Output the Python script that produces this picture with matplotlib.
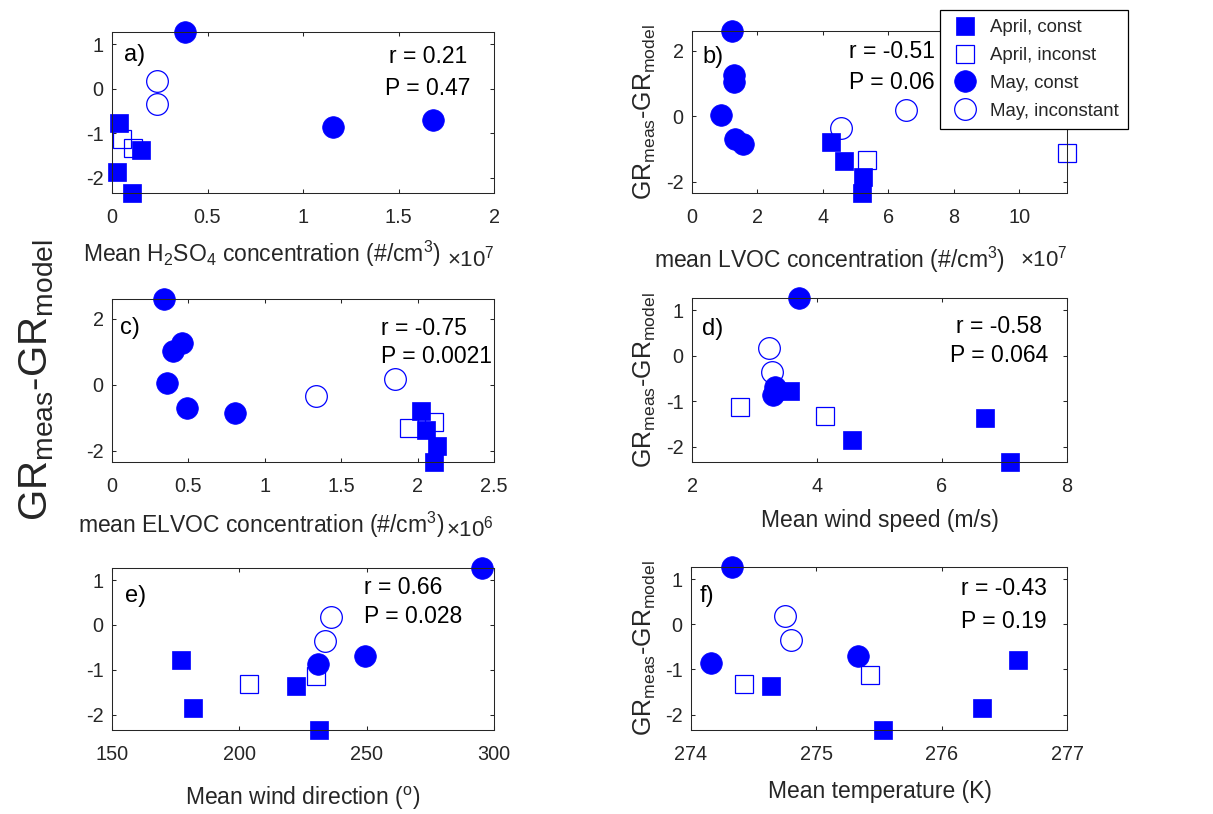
import numpy as np
import matplotlib
matplotlib.use('Agg')
import matplotlib.pyplot as plt
from matplotlib.lines import Line2D
from matplotlib.ticker import FuncFormatter

nan = np.nan

# ---------------- data ----------------
# GR_meas - GR_model for each event group
dgr_apr_const = [-0.78, -1.37, -1.86, -2.34]
dgr_apr_incon = [-1.13, -1.32]
dgr_may_const = [2.60, 1.27, 1.03, 0.04, -0.70, -0.86]
dgr_may_incon = [0.18, -0.35]

# a) mean H2SO4 concentration (x 1e7 #/cm3)
h2so4_apr_const = [0.038, 0.151, 0.028, 0.106]
h2so4_apr_incon = [0.050, 0.108]
h2so4_may_const = [nan, 0.384, nan, nan, 1.680, 1.158]
h2so4_may_incon = [0.236, 0.233]

# b) mean LVOC concentration (x 1e7 #/cm3)
lvoc_apr_const = [4.24, 4.63, 5.24, 5.21]
lvoc_apr_incon = [11.46, 5.35]
lvoc_may_const = [1.22, 1.27, 1.27, 0.89, 1.32, 1.55]
lvoc_may_incon = [6.55, 4.56]

# c) mean ELVOC concentration (x 1e6 #/cm3)
elvoc_apr_const = [2.025, 2.058, 2.130, 2.110]
elvoc_apr_incon = [2.110, 1.944]
elvoc_may_const = [0.340, 0.455, 0.397, 0.357, 0.488, 0.806]
elvoc_may_incon = [1.850, 1.334]

# d) mean wind speed (m/s)
ws_apr_const = [3.57, 6.69, 4.56, 7.08]
ws_apr_incon = [2.77, 4.12]
ws_may_const = [nan, 3.71, nan, nan, 3.32, 3.30]
ws_may_incon = [3.23, 3.28]

# e) mean wind direction (deg)
wd_apr_const = [176.9, 222.2, 181.9, 231.3]
wd_apr_incon = [230.3, 203.6]
wd_may_const = [nan, 295.3, nan, nan, 249.3, 230.7]
wd_may_incon = [235.9, 233.7]

# f) mean temperature (K)
temp_apr_const = [276.61, 274.64, 276.32, 275.53]
temp_apr_incon = [275.43, 274.42]
temp_may_const = [nan, 274.33, nan, nan, 275.33, 274.16]
temp_may_incon = [274.75, 274.80]

r_values = ['0.21', '-0.51', '-0.75', '-0.58', '0.66', '-0.43']
p_values = ['0.47', '0.06', '0.0021', '0.064', '0.028', '0.19']
panel_letters = ['a)', 'b)', 'c)', 'd)', 'e)', 'f)']
group_labels = ['April, const', 'April, inconst', 'May, const', 'May, inconstant']

# ---------------- style ----------------
plt.rcParams['font.family'] = ['Liberation Sans', 'DejaVu Sans']
plt.rcParams['mathtext.fontset'] = 'custom'
plt.rcParams['mathtext.rm'] = 'Liberation Sans'
plt.rcParams['mathtext.it'] = 'Liberation Sans:italic'
plt.rcParams['mathtext.bf'] = 'Liberation Sans:bold'
plt.rcParams['axes.unicode_minus'] = False

W, H = 1213, 814
fig = plt.figure(figsize=(W / 100, H / 100), dpi=100)

def fx(px):
    return px / W

def fy(py):
    return 1 - py / H

GREY = '#262626'
BLUE = (0, 0, 1)
MS_SQ = 12.3
MS_CI = 15.6
TICK_FS = 14.3

styles = [
    dict(marker='s', ms=MS_SQ, mfc=BLUE, mec=BLUE, mew=0.5),
    dict(marker='s', ms=MS_SQ, mfc='none', mec=BLUE, mew=0.9),
    dict(marker='o', ms=MS_CI, mfc=BLUE, mec=BLUE, mew=0.5),
    dict(marker='o', ms=MS_CI, mfc='none', mec=BLUE, mew=0.9),
]
ys = [dgr_apr_const, dgr_apr_incon, dgr_may_const, dgr_may_incon]

panels = [
    dict(xs=[h2so4_apr_const, h2so4_apr_incon, h2so4_may_const, h2so4_may_incon],
         box=(112, 32, 494, 193), xlim=(0, 2), xticks=[0, 0.5, 1, 1.5, 2], yticks=[-2, -1, 0, 1],
         xlabel=r'Mean H$_2$SO$_4$ concentration (#/cm$^3$)', xlab=(262, 262),
         expo=(r'$\times10^{7}$', 447, 266), rp=('center', 428, 63, 95), letter=(124, 61), ylab=False),
    dict(xs=[lvoc_apr_const, lvoc_apr_incon, lvoc_may_const, lvoc_may_incon],
         box=(692, 31, 1067, 193), xlim=None, xticks=[0, 2, 4, 6, 8, 10], yticks=[-2, 0, 2],
         xlabel=r'mean LVOC concentration (#/cm$^3$)', xlab=(830, 268),
         expo=(r'$\times10^{7}$', 1020, 267), rp=('left', 849, 58, 89), letter=(702, 63), ylab=True),
    dict(xs=[elvoc_apr_const, elvoc_apr_incon, elvoc_may_const, elvoc_may_incon],
         box=(112, 299, 494, 462), xlim=(0, 2.5), xticks=[0, 0.5, 1, 1.5, 2, 2.5], yticks=[-2, 0, 2],
         xlabel=r'mean ELVOC concentration (#/cm$^3$)', xlab=(261, 533),
         expo=(r'$\times10^{6}$', 446, 536), rp=('left', 381, 335, 363), letter=(120, 334), ylab=False),
    dict(xs=[ws_apr_const, ws_apr_incon, ws_may_const, ws_may_incon],
         box=(692, 298, 1067, 462), xlim=(2, 8), xticks=[2, 4, 6, 8], yticks=[-2, -1, 0, 1],
         xlabel='Mean wind speed (m/s)', xlab=(880, 527),
         expo=None, rp=('center', 999, 333, 362), letter=(702, 335), ylab=True),
    dict(xs=[wd_apr_const, wd_apr_incon, wd_may_const, wd_may_incon],
         box=(112, 568, 494, 730), xlim=(150, 300), xticks=[150, 200, 250, 300], yticks=[-2, -1, 0, 1],
         xlabel=r'Mean wind direction ($^{\rm o}$)', xlab=(303, 805),
         expo=None, rp=('left', 364, 594, 623), letter=(125, 602), ylab=False),
    dict(xs=[temp_apr_const, temp_apr_incon, temp_may_const, temp_may_incon],
         box=(691, 567, 1067, 730), xlim=(274, 277), xticks=[274, 275, 276, 277], yticks=[-2, -1, 0, 1],
         xlabel='Mean temperature (K)', xlab=(880, 798),
         expo=None, rp=('left', 961, 595, 628), letter=(700, 602), ylab=True),
]

fmt = FuncFormatter(lambda v, _: f'{v:g}')
ylab_text = r'GR$_{\rm meas}$-GR$_{\rm model}$'

for i, p in enumerate(panels):
    l, t, r, b = p['box']
    ax = fig.add_axes([fx(l), fy(b), (r - l) / W, (b - t) / H])
    allx, ally = [], []
    for xs, yv, st in zip(p['xs'], ys, styles):
        xa = np.array(xs, float)
        ya = np.array(yv, float)
        ok = ~np.isnan(xa)
        ax.plot(xa[ok], ya[ok], ls='none', clip_on=False, **st)
        allx += list(xa[ok])
        ally += list(ya[ok])
    if p['xlim'] is None:
        ax.set_xlim(0, max(allx))
    else:
        ax.set_xlim(*p['xlim'])
    ax.set_ylim(min(ally), max(ally))
    ax.set_xticks(p['xticks'])
    ax.set_yticks(p['yticks'])
    ax.xaxis.set_major_formatter(fmt)
    ax.yaxis.set_major_formatter(fmt)
    ax.tick_params(direction='in', length=3, width=0.75, top=True, right=True,
                   colors=GREY, labelsize=TICK_FS)
    ax.tick_params(axis='x', pad=11)
    ax.tick_params(axis='y', pad=6)
    for s in ax.spines.values():
        s.set_linewidth(0.75)
        s.set_color(GREY)

    fig.text(fx(p['xlab'][0]), fy(p['xlab'][1]), p['xlabel'], ha='center', va='baseline',
             fontsize=16.5, color=GREY)
    if p['expo'] is not None:
        e, ex, ey = p['expo']
        fig.text(fx(ex), fy(ey), e, ha='left', va='baseline', fontsize=16, color=GREY)
    ha, rx, y1, y2 = p['rp']
    fig.text(fx(rx), fy(y1), f'r = {r_values[i]}', ha=ha, va='baseline', fontsize=16.5, color='black')
    fig.text(fx(rx), fy(y2), f'P = {p_values[i]}', ha=ha, va='baseline', fontsize=16.5, color='black')
    fig.text(fx(p['letter'][0]), fy(p['letter'][1]), panel_letters[i], ha='left', va='baseline',
             fontsize=17, color='black')
    if p['ylab']:
        fig.text(fx(645), fy((t + b) / 2), ylab_text, rotation=90, ha='center', va='center',
                 fontsize=18, color=GREY)

# common y label
fig.text(fx(37), fy(380), ylab_text, rotation=90, ha='center', va='center', fontsize=29, color=GREY)

# legend
handles = [Line2D([], [], ls='none', **st) for st in styles]
leg = fig.legend(handles, group_labels, loc='upper left', bbox_to_anchor=(fx(940), fy(10)),
                 borderaxespad=0, fontsize=13.4, frameon=True, fancybox=False,
                 edgecolor='black', framealpha=1, borderpad=0.5, handlelength=1.7,
                 handletextpad=0.5, labelspacing=0.58)
leg.get_frame().set_linewidth(0.9)
for txt in leg.get_texts():
    txt.set_color(GREY)

fig.savefig('out.png', dpi=100)
